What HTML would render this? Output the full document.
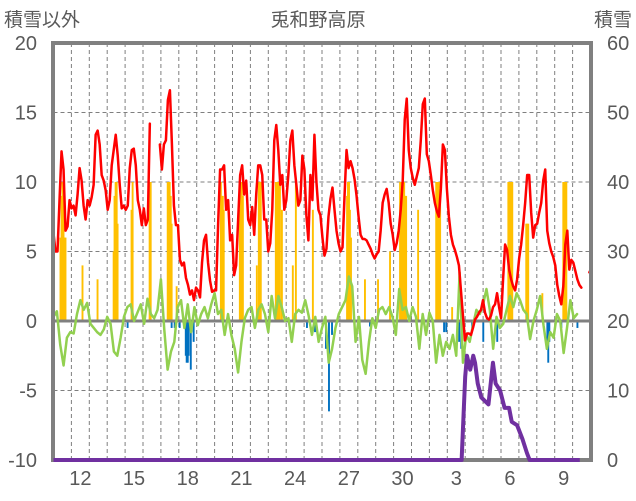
<!DOCTYPE html>
<html><head><meta charset="utf-8"><style>
html,body{margin:0;padding:0;background:#fff;}
svg{display:block;font-family:"Liberation Sans","Noto Sans CJK JP",sans-serif;}
</style></head><body>
<svg id="chart" width="636" height="501" viewBox="0 0 636 501" xmlns="http://www.w3.org/2000/svg">
<text x="318" y="26" text-anchor="middle" font-size="19" fill="#595959">兎和野高原</text>
<text x="4" y="26" font-size="19" fill="#595959">積雪以外</text>
<text x="632" y="26" text-anchor="end" font-size="19" fill="#595959">積雪</text>
<g id="grid"></g>
<g id="bars"></g>
<g id="lines"></g>
<g id="axes"></g>
<g id="topLayer"></g>
</svg>
<script>
const leftTicks=[20,15,10,5,0,-5,-10];
const rightTicks=[60,50,40,30,20,10,0];
const xLabels=["12","15","18","21","24","27","30","3","6","9"];
const xLabelDays=[1,4,7,10,13,16,19,22,25,28];
const dayCount=30;
const redV=[6.3,5.0,5.0,8.7,12.2,10.9,6.5,6.8,8.7,8.1,8.3,7.6,9.1,11.0,10.1,8.3,7.3,8.7,8.3,8.9,9.8,13.4,13.7,12.7,10.5,10.1,9.4,8.0,8.7,11.2,12.3,13.4,11.9,9.8,8.1,8.3,8.0,8.3,11.0,12.3,12.4,11.2,8.7,8.0,6.9,8.1,6.9,7.3,14.2,null,null,null,null,12.7,10.9,12.7,13.0,15.9,16.6,12.7,8.3,6.9,6.9,4.4,4.0,4.2,3.1,2.6,1.9,2.2,1.5,2.4,2.2,1.7,4.2,5.8,6.2,4.2,2.9,2.1,2.2,2.2,6.9,10.9,10.9,11.2,8.0,8.7,5.8,6.2,3.3,4.0,7.3,10.5,11.2,9.1,10.1,7.3,6.9,8.2,6.2,9.1,11.2,11.2,10.5,7.3,7.3,5.0,5.6,8.0,13.0,14.1,12.3,9.8,10.5,8.0,8.7,10.5,13.0,13.7,11.2,9.8,8.3,8.7,11.9,10.9,7.6,5.8,
10.5,8.7,13.4,10,8.0,7.6,6.0,4.7,5.2,7.5,8.8,9.6,8,6.5,5.6,5.0,5.3,9,12.3,11,11.5,11.0,10.2,9,7.5,6.2,5.9,5.9,5.8,5.5,5.2,4.8,4.5,4.8,5.0,6.5,8.5,9.1,9.5,8.5,7,6.2,5.1,5.6,6.5,8,10.1,14.5,16.0,12.3,11,10.3,9.8,10.4,11,13,15.6,16.0,12,11.5,10.5,9.4,8.5,7.9,7.5,9.5,12.7,12.3,9.5,7.5,6.2,5.5,5.1,4.6,4.0,2.2,0.4,-1.4,-0.9,-0.9,-1.0,-0.5,0.1,0.3,0.6,0.8,1.5,0.6,0.2,0.1,0.4,1.0,1.2,2.0,1.0,0.2,3,5.5,5.1,3.7,3.0,2.5,2.2,3,4.5,5.5,6.9,8.5,10.5,10.5,7.8,6.0,6.9,7.0,7.8,8.5,10.1,10.9,6.5,5.6,5.0,4.6,4.0,2.6,1.8,1.2,2.5,5.5,6.5,3.7,4.4,4.2,3.6,3.0,2.6,2.4,null,null,null,3.5,3.8];
const redSpan=[0,30.05];
const greenV=[0.3,0.7,-1.7,-3.2,-1.2,-0.8,-0.9,0.5,1.5,0.8,1.3,-0.2,-0.5,-0.8,-1.0,-0.6,0.3,-0.2,-2.2,-2.5,-1.2,0.3,1.0,1.2,0.0,0.6,1.2,-0.2,1.6,0.5,0.2,0.8,3.0,-0.6,-3.5,-2.2,-1.5,1.0,1.5,-0.5,1.2,-0.8,1.0,-0.3,0.5,1.0,0.2,1.2,2.0,0.5,0.8,-1.0,0.5,-1.0,-2.0,-3.7,-1.5,0.2,0.8,1.0,-0.5,0.8,1.2,0.5,-0.8,1.8,0.2,1.8,1.0,0.0,0.2,-1.5,0.5,0.8,0.6,1.5,0.4,-1.0,
0.3,-1.5,-0.5,0.3,-3.0,-2.0,-0.5,0.5,1.0,1.5,3.2,2.5,-1.5,0.3,-2.8,-3.8,-1.5,0.2,-0.5,0.8,1.0,0.5,1.0,0.3,-1.0,2.3,0.8,1.0,0.0,1.0,0.3,-2.0,0.5,-1.0,0.6,0.0,-3.0,-1.0,-2.5,-1.5,-2.0,-1.0,-2.5,3.5,-3.0,-1.0,-1.5,-0.3,0.8,0.5,1.2,2.3,0.8,-2.0,0.3,-0.5,-0.2,0.8,1.8,1.0,2.0,1.5,0.8,0.5,-1.3,0.0,0.8,1.8,-0.3,-2.0,-0.8,-1.2,0.5,0.0,-2.3,-0.5,1.5,0.2,0.5,null,null,null,0.5];
const greenSpan=[0,30];
const orangeT=[0.39,0.45,0.50,0.56,0.62,0.67,1.62,2.46,3.36,3.41,3.47,3.53,3.58,4.36,4.42,5.37,5.43,6.38,6.44,6.49,6.55,6.60,6.88,9.35,9.40,9.46,9.51,10.41,10.46,10.52,10.58,11.36,11.47,11.53,11.58,12.42,12.48,12.53,12.59,12.65,12.76,13.37,13.54,14.49,16.40,16.45,16.51,16.56,16.62,17.40,18.13,18.80,19.36,19.42,19.47,19.53,19.59,19.64,19.70,20.37,21.38,21.43,21.49,21.55,21.60,22.27,25.41,25.46,25.52,25.57,25.63,26.41,26.47,26.52,27.31,28.48,28.54,28.60,28.65];
const orangeV=[6,9,10,9,6,6,4,3,5,9,10,10,7,8,10,10,10,10,10,10,9,7,2.5,10,9,9,8,8,10,10,9,4,10,10,10,10,10,10,10,10,8,4,10,8,9,10,10,8,6,3,3,5,10,10,10,10,10,9,9,8,10,10,10,10,10,1,10,10,10,10,10,7,7,7,2,10,10,10,10];
const blueT=[4.14,6.60,6.77,7.05,7.39,7.44,7.50,7.55,7.67,7.83,14.16,14.61,15.22,15.39,15.56,17.68,21.82,21.94,22.66,22.78,23.39,24.01,24.79,27.59,27.64,27.70,28.37,29.27];
const blueV=[-0.5,-0.5,-0.5,-0.5,-2.5,-3,-3,-2.5,-3.5,-1.5,-0.5,-0.8,-2.0,-6.5,-1.0,-0.4,-0.8,-0.8,-1.5,-2.0,-0.5,-1.5,-1.5,-2.0,-3.0,-1.5,-0.5,-0.5];
const purpleT=[0,22.80,22.90,23.00,23.10,23.28,23.45,23.55,23.70,23.90,24.10,24.30,24.55,24.70,24.95,25.20,25.45,25.60,25.90,26.20,26.45,26.60,29.40];
const purpleV=[0,0,6,12,15,13,15,14,11,9,8.5,8,14,11,10,7.5,7.5,5.5,5,3,1,0,0];

const PL=53.5,PR=590.5,PT=43,PB=460;
const NS="http://www.w3.org/2000/svg";
function X(t){return PL+t*(PR-PL)/dayCount;}
function YL(v){return PT+(20-v)*(PB-PT)/30;}
function YR(v){return PB-v*(PB-PT)/60;}
function mk(tag,attrs,parent){const e=document.createElementNS(NS,tag);for(const k in attrs)e.setAttribute(k,attrs[k]);parent.appendChild(e);return e;}
const gridG=document.getElementById('grid'),barsG=document.getElementById('bars'),linesG=document.getElementById('lines'),axesG=document.getElementById('axes'),topG=document.getElementById('topLayer');

for(let d=1;d<dayCount;d++){
  const l=mk('line',{x1:X(d),x2:X(d),y1:PT,y2:PB,stroke:'#7f7f7f','stroke-width':1,'stroke-dasharray':'4,3'},gridG);
  
  
}
leftTicks.forEach(v=>{
  if(v!==20&&v!==-10&&v!==0){
    const l=mk('line',{x1:PL,x2:PR,y1:YL(v),y2:YL(v),stroke:'#7f7f7f','stroke-width':1,'stroke-dasharray':'4,3'},gridG);
    
    
  }
  const t=mk('text',{x:37,y:YL(v)+7,'text-anchor':'end','font-size':20,fill:'#595959'},axesG);
  t.textContent=v;
  
  
});
rightTicks.forEach(v=>{
  const t=mk('text',{x:607,y:YR(v)+7,'font-size':20,fill:'#595959'},axesG);
  t.textContent=v;
  
  
});
xLabels.forEach((s,i)=>{
  const t=mk('text',{x:X(xLabelDays[i]+0.5),y:485,'text-anchor':'middle','font-size':20,fill:'#595959'},axesG);
  t.textContent=s;
  
  
});
const bw=1.9;
orangeT.forEach((t,i)=>{
  const v=orangeV[i];
  const r=mk('rect',{x:X(t)-bw/2,y:YL(v),width:bw,height:YL(0)-YL(v),fill:'#ffc000'},barsG);
  
  
});
blueT.forEach((t,i)=>{
  const v=blueV[i];
  const r=mk('rect',{x:X(t)-bw/2,y:YL(0),width:bw,height:YL(v)-YL(0),fill:'#0070c0'},barsG);
  
  
});
const z=mk('line',{x1:PL,x2:PR,y1:YL(0),y2:YL(0),stroke:'#808080','stroke-width':3},barsG);



function series(vals,span,yf,color,w,name){
  let d='',pen=false;
  const n=vals.length;
  vals.forEach((v,i)=>{
    if(v===null){pen=false;return;}
    const t=span[0]+(span[1]-span[0])*i/(n-1);
    d+=(pen?'L':'M')+X(t).toFixed(2)+' '+yf(v).toFixed(2);
    pen=true;
  });
  const p=mk('path',{d:d,fill:'none',stroke:color,'stroke-width':w,'stroke-linejoin':'round','stroke-linecap':'round'},linesG);
  
  
}
series(greenV,greenSpan,YL,'#92d050',2.5,'green-series-line');
series(redV,redSpan,YL,'#ff0000',2.5,'red-series-line');
const b=mk('rect',{x:PL-0.5,y:PT,width:PR-PL+1,height:PB-PT,fill:'none',stroke:'#808080','stroke-width':4},axesG);


(function(){
  let d='';
  purpleT.forEach((t,i)=>{d+=(i?'L':'M')+X(t).toFixed(2)+' '+YR(purpleV[i]).toFixed(2);});
  const p=mk('path',{d:d,fill:'none',stroke:'#7030a0','stroke-width':4,'stroke-linejoin':'round'},topG);
  
  
})();
</script>
</body></html>
